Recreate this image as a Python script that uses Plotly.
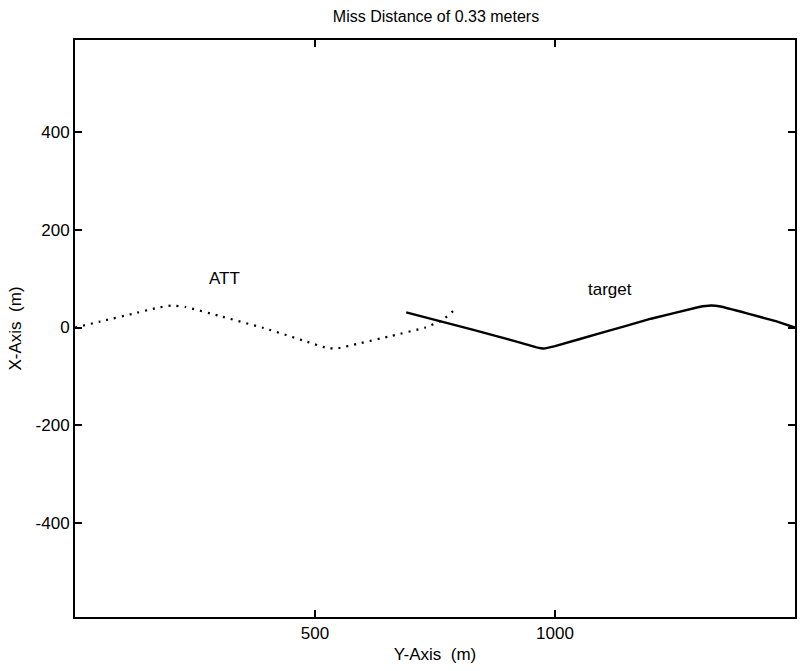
import plotly.graph_objects as go

# ATT trajectory (dotted)
att_y = [0, 60, 120, 170, 200, 230, 300, 400, 480, 525, 545, 590, 660, 730, 765, 794]
att_x = [0, 14, 28, 40, 45, 42, 24, -3, -28, -42, -43, -33, -17, 0, 15, 39]

# target trajectory (solid)
tgt_y = [690, 780, 880, 960, 977, 1000, 1100, 1200, 1300, 1325, 1345, 1400, 1460, 1500]
tgt_x = [31, 8, -18, -40, -43, -38, -10, 18, 42, 45, 43, 29, 13, 0]

ann_text = ["ATT", "target"]
ann_y = [312, 1114]
ann_x = [100, 78]

xticks = [500, 1000]
yticks = [-400, -200, 0, 200, 400]

FONT = "Liberation Sans, Arial, sans-serif"

fig = go.Figure()
fig.add_trace(go.Scatter(x=att_y, y=att_x, mode="lines",
                         line=dict(color="black", width=2.2, dash="2px,6px", shape="spline", smoothing=0.3),
                         showlegend=False, hoverinfo="skip"))
fig.add_trace(go.Scatter(x=tgt_y, y=tgt_x, mode="lines",
                         line=dict(color="black", width=2.4, shape="spline", smoothing=0.2),
                         showlegend=False, hoverinfo="skip"))

for t, xv, yv in zip(ann_text, ann_y, ann_x):
    fig.add_annotation(x=xv, y=yv, text=t, showarrow=False,
                       font=dict(family=FONT, size=17, color="black"))

fig.update_layout(
    width=800, height=671,
    margin=dict(l=75, r=3, t=40, b=54),
    paper_bgcolor="white", plot_bgcolor="white",
    title=dict(text="Miss Distance of 0.33 meters", x=0.545, xanchor="center",
               y=1 - 16 / 671, yanchor="middle",
               font=dict(family=FONT, size=16, color="black")),
    font=dict(family=FONT, size=17, color="black"),
)
fig.update_xaxes(range=[0, 1500], tickvals=xticks, ticktext=[str(v) for v in xticks],
                 ticks="inside", ticklen=7, tickwidth=1.5, tickcolor="black",
                 showline=True, linecolor="black", linewidth=2, mirror="ticks",
                 showgrid=False, zeroline=False,
                 title=dict(text="Y-Axis&nbsp;&nbsp;(m)", standoff=6, font=dict(family=FONT, size=17)),
                 tickfont=dict(family=FONT, size=17))
fig.update_yaxes(range=[-592, 588], tickvals=yticks, ticktext=[str(v) for v in yticks],
                 ticks="inside", ticklen=7, tickwidth=1.5, tickcolor="black",
                 showline=True, linecolor="black", linewidth=2, mirror="ticks",
                 showgrid=False, zeroline=False,
                 title=dict(text="X-Axis&nbsp;&nbsp;(m)", standoff=10, font=dict(family=FONT, size=17)),
                 tickfont=dict(family=FONT, size=17))

fig.write_html("out.html")
